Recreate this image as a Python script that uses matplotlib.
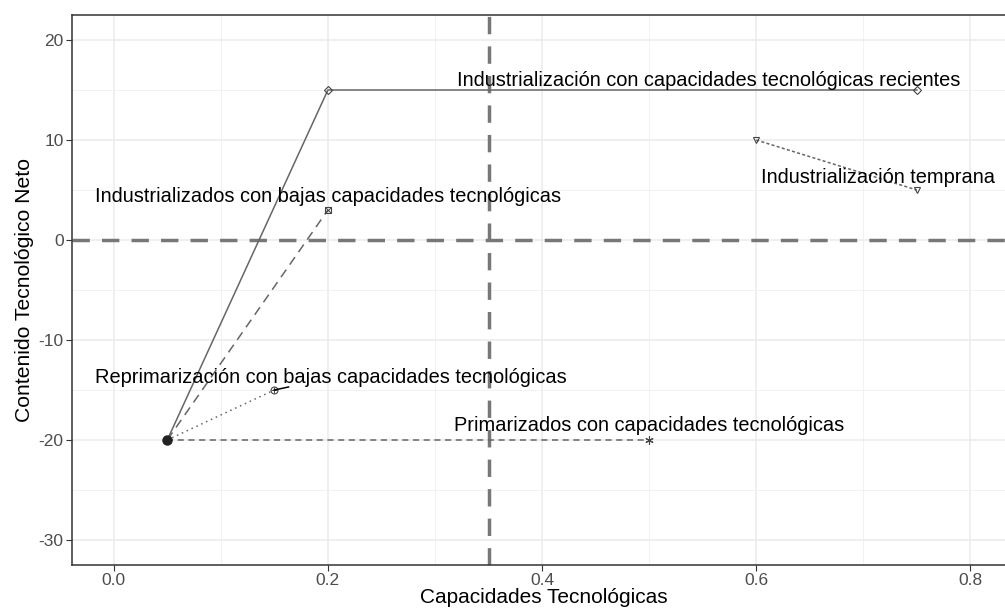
import numpy as np
import matplotlib.pyplot as plt
from matplotlib.ticker import MultipleLocator

# trajectories: start point (0.05, -20) and the points they go to
ind_rec_x = [0.05, 0.2, 0.75]
ind_rec_y = [-20, 15, 15]
ind_baj_x = [0.05, 0.2]
ind_baj_y = [-20, 3]
reprim_x = [0.05, 0.15]
reprim_y = [-20, -15]
prim_x = [0.05, 0.5]
prim_y = [-20, -20]
temp_x = [0.6, 0.75]
temp_y = [10, 5]

labels = ["Industrialización con capacidades tecnológicas recientes",
          "Industrializados con bajas capacidades tecnológicas",
          "Reprimarización con bajas capacidades tecnológicas",
          "Primarizados con capacidades tecnológicas",
          "Industrialización temprana"]
label_x = [0.556, 0.2, 0.203, 0.5, 0.714]
label_y = [16.0, 4.3, -13.8, -18.6, 6.2]

vline_x = 0.35
hline_y = 0

plt.rcParams['font.family'] = ['Liberation Sans', 'DejaVu Sans']
plt.rcParams['axes.unicode_minus'] = False
fig = plt.figure(figsize=(10.05, 6.1), dpi=100)
ax = fig.add_axes([0.0716, 0.0738, 1.0 - 0.0716 + 0.01, 0.9016])

lc = '#666666'
mk = dict(markersize=5, markerfacecolor='none', markeredgecolor='#444444', markeredgewidth=0.8)
ax.plot(ind_rec_x, ind_rec_y, '-', color=lc, lw=1.1, marker='D', **dict(mk, markersize=4.5), zorder=3)
ax.plot(ind_baj_x, ind_baj_y, color=lc, lw=1.1, ls=(0, (6, 4)), marker='s', **mk, zorder=3)
ax.plot(ind_baj_x, ind_baj_y, 'x', color='#444444', markersize=4.5, mew=0.7, zorder=4)
ax.plot(reprim_x, reprim_y, color=lc, lw=1.1, ls=(0, (1, 2.5)), marker='o', **mk, zorder=3)
ax.plot(reprim_x, reprim_y, '+', color='#444444', markersize=5, mew=0.7, zorder=4)
ax.plot(prim_x, prim_y, color=lc, lw=1.1, ls=(0, (4, 3)), zorder=3)
ax.plot(prim_x, prim_y, linestyle='none', marker=(6, 2, 0), markersize=6, color='#444444', mew=0.8, zorder=4)
ax.plot(temp_x, temp_y, color=lc, lw=1.1, ls=(0, (2, 1.5)), marker='v', **mk, zorder=3)
# overlapping start points
ax.plot([0.05], [-20], 'o', color='#222222', markersize=6.5, zorder=5)

ax.axvline(vline_x, color='#777777', lw=2.5, ls=(0, (5, 3.5)), zorder=2)
ax.axhline(hline_y, color='#777777', lw=2.5, ls=(0, (5, 3.5)), zorder=2)

for t, x, y in zip(labels, label_x, label_y):
    ax.text(x, y, t, ha='center', va='center', fontsize=14.4, color='black', zorder=6)

# short connector from the Reprimarización point toward its label
seg_f = 0.25
px, py = reprim_x[1], reprim_y[1]
ax.plot([px, px + seg_f * (label_x[2] - px)], [py, py + seg_f * (label_y[2] - py)],
        color='black', lw=1.1, zorder=5)

ax.set_xlim(-0.039, 0.831 + 0.0107)
ax.set_ylim(-32.5, 22.5)
ax.xaxis.set_major_locator(MultipleLocator(0.2))
ax.xaxis.set_minor_locator(MultipleLocator(0.1))
ax.yaxis.set_major_locator(MultipleLocator(10))
ax.yaxis.set_minor_locator(MultipleLocator(5))
ax.set_xticks([0.0, 0.2, 0.4, 0.6, 0.8])
ax.set_xticklabels(['0.0', '0.2', '0.4', '0.6', '0.8'])
ax.grid(which='major', color='#EBEBEB', lw=1.1, zorder=0)
ax.grid(which='minor', color='#F2F2F2', lw=0.7, zorder=0)
ax.set_axisbelow(True)
for s in ['left', 'bottom', 'top']:
    ax.spines[s].set_color('#333333')
    ax.spines[s].set_linewidth(1.1)
ax.spines['right'].set_visible(False)
ax.tick_params(which='major', length=4, color='#333333', labelcolor='#4D4D4D', labelsize=12.5, pad=2)
ax.tick_params(which='minor', length=0)
ax.set_xlabel('Capacidades Tecnológicas', fontsize=15, labelpad=0)
ax.set_ylabel('Contenido Tecnológico Neto', fontsize=15.2, labelpad=3)

fig.savefig('out.png', dpi=100)
